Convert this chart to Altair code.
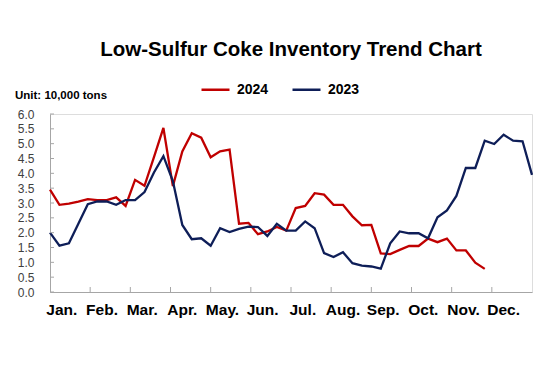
import altair as alt
import pandas as pd

# ---- data ----
months = ["Jan.", "Feb.", "Mar.", "Apr.", "May.", "Jun.", "Jul.", "Aug.", "Sep.", "Oct.", "Nov.", "Dec."]
y_ticks = [0.0, 0.5, 1.0, 1.5, 2.0, 2.5, 3.0, 3.5, 4.0, 4.5, 5.0, 5.5, 6.0]
series_names = ["2024", "2023"]

values_2024 = [3.45, 2.94, 2.98, 3.05, 3.13, 3.10, 3.10, 3.19, 2.90, 3.78,
               3.58, 4.55, 5.53, 3.57, 4.74, 5.35, 5.20, 4.54, 4.74, 4.80,
               2.30, 2.33, 1.95, 2.04, 2.19, 2.07, 2.83, 2.90, 3.33, 3.28,
               2.94, 2.94, 2.55, 2.25, 2.26, 1.30, 1.28, 1.42, 1.55, 1.55,
               1.80, 1.68, 1.80, 1.40, 1.40, 0.99, 0.78]

values_2023 = [2.00, 1.56, 1.64, 2.30, 2.96, 3.05, 3.05, 2.94, 3.10, 3.10,
               3.37, 4.03, 4.58, 3.74, 2.26, 1.78, 1.81, 1.56, 2.15, 2.02,
               2.13, 2.20, 2.19, 1.89, 2.30, 2.07, 2.07, 2.38, 2.15, 1.31,
               1.18, 1.34, 0.97, 0.89, 0.86, 0.79, 1.64, 2.04, 1.98, 1.98,
               1.81, 2.52, 2.75, 3.24, 4.18, 4.18, 5.10, 4.99, 5.30, 5.10,
               5.08, 3.95]

RED = "#C00000"
NAVY = "#0E1E58"
AXIS_GRAY = "#A6A6A6"
FONT = "Liberation Sans"

rows = []
for i, v in enumerate(values_2024):
    rows.append({"week": i, "value": v, "year": series_names[0]})
for i, v in enumerate(values_2023):
    rows.append({"week": i, "value": v, "year": series_names[1]})
df = pd.DataFrame(rows)

n_max = len(values_2023) - 1          # x domain in week index
per_month = n_max / 12.0
W, H = 482, 178

x_scale = alt.Scale(domain=[0, n_max], nice=False, zero=False)
y_scale = alt.Scale(domain=[0, 6], nice=False)

label_vals = [m * per_month + 1.2 for m in range(12)]
label_expr = "[" + ",".join("'%s'" % m for m in months) + "][floor(datum.value / %f)]" % per_month

lines = alt.Chart(df).mark_line(strokeWidth=2.3).encode(
    x=alt.X("week:Q", scale=x_scale,
            axis=alt.Axis(values=label_vals, labelExpr=label_expr, ticks=False, grid=False,
                          title=None, domainColor=AXIS_GRAY, labelFontSize=15.5,
                          labelFontWeight="bold", labelColor="#000000", labelFont=FONT,
                          labelPadding=10, labelOverlap=False)),
    y=alt.Y("value:Q", scale=y_scale,
            axis=alt.Axis(values=y_ticks, format=".1f", ticks=False, grid=False, title=None,
                          domainColor=AXIS_GRAY, labelFontSize=12, labelColor="#404040",
                          labelFont=FONT, labelPadding=16)),
    color=alt.Color("year:N",
                    scale=alt.Scale(domain=series_names, range=[RED, NAVY]),
                    legend=alt.Legend(orient="none", legendX=150, legendY=-40,
                                      direction="horizontal", title=None,
                                      symbolType="stroke", symbolSize=784,
                                      symbolStrokeWidth=2.5, labelFontSize=14,
                                      labelFontWeight="bold", labelFont=FONT,
                                      labelColor="#000000", columnPadding=18,
                                      labelOffset=6)),
)

# inner tick marks on y axis
ytick_df = pd.DataFrame({"tv": y_ticks})
yticks = alt.Chart(ytick_df).mark_rule(color=AXIS_GRAY, strokeWidth=1).encode(
    y=alt.Y("tv:Q", scale=y_scale, axis=None),
    x=alt.value(0), x2=alt.value(4),
)

# inner tick marks on x axis (month boundaries)
xtick_df = pd.DataFrame({"mb": [m * per_month for m in range(1, 12)]})
xticks = alt.Chart(xtick_df).mark_rule(color=AXIS_GRAY, strokeWidth=1).encode(
    x=alt.X("mb:Q", scale=x_scale, axis=None),
    y=alt.value(H - 5), y2=alt.value(H),
)

unit_df = pd.DataFrame({"t": ["Unit: 10,000 tons"]})
unit = alt.Chart(unit_df).mark_text(align="left", baseline="middle", fontWeight="bold",
                                    fontSize=11.5, font=FONT, color="#000000").encode(
    text="t:N", x=alt.value(-35), y=alt.value(-18),
)

chart = alt.layer(lines, xticks, yticks, unit).resolve_axis(
    x="independent", y="independent"
).properties(
    width=W, height=H,
    title=alt.TitleParams("Low-Sulfur Coke Inventory Trend Chart", fontSize=20.5, font=FONT,
                          fontWeight="bold", color="#000000", anchor="middle", frame="group",
                          offset=14),
    autosize=alt.AutoSizeParams(type="none"),
    padding={"left": 42, "top": 106, "right": 10, "bottom": 55},
).configure_view(stroke=None).configure(background="white")

chart.save("out.html", embed_options={"renderer": "svg", "actions": False})
